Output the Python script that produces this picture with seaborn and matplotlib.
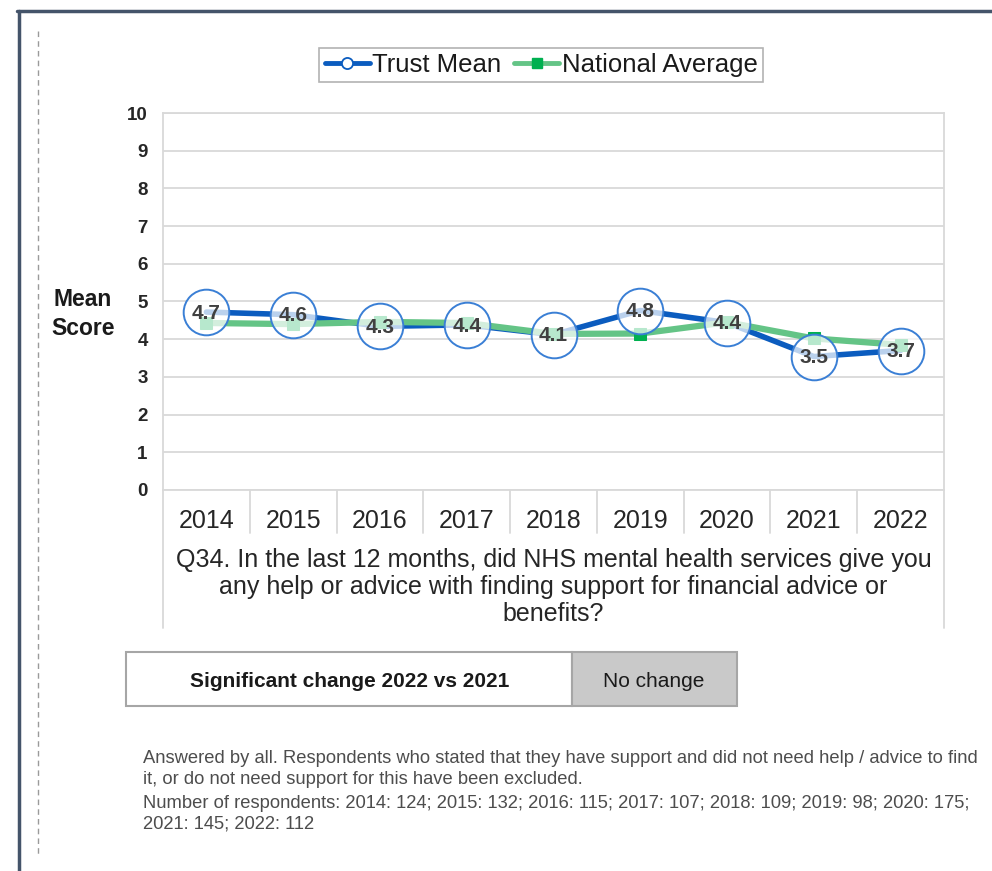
import pandas as pd
import numpy as np
import matplotlib.pyplot as plt
import matplotlib.lines as mlines
import matplotlib.patches as mpatches
import matplotlib.transforms as mtransforms
import seaborn as sns

# ==========================================
# COLOURS
# ==========================================
TRUST_BLUE   = "#0B5CBF"
CIRCLE_EDGE  = "#3A7FD5"
NAT_GREEN    = "#64C486"
NAT_MARKER   = "#00B050"
GRID_GREY    = "#D9D9D9"
TEXT_DARK    = "#404040"
FRAME_SLATE  = "#44546A"

# ==========================================
# DATA
# ==========================================
years = ["2014", "2015", "2016", "2017", "2018", "2019", "2020", "2021", "2022"]
trust_mean = [4.72, 4.65, 4.34, 4.38, 4.12, 4.76, 4.44, 3.54, 3.70]
trust_labels = ["4.7", "4.6", "4.3", "4.4", "4.1", "4.8", "4.4", "3.5", "3.7"]
national_avg = [4.43, 4.40, 4.46, 4.43, 4.14, 4.15, 4.45, 4.02, 3.85]

question = ("Q34. In the last 12 months, did NHS mental health services give you\n"
            "any help or advice with finding support for financial advice or\n"
            "benefits?")
footnote_1 = ("Answered by all. Respondents who stated that they have support and did not need help / advice to find\n"
              "it, or do not need support for this have been excluded.")
footnote_2 = ("Number of respondents: 2014: 124; 2015: 132; 2016: 115; 2017: 107; 2018: 109; 2019: 98; 2020: 175;\n"
              "2021: 145; 2022: 112")

df = pd.DataFrame({"year": years, "trust": trust_mean, "national": national_avg})

sns.set_style("white")
plt.rcParams["font.family"] = ["Liberation Sans", "DejaVu Sans"]

W, H = 992, 871
fig = plt.figure(figsize=(W / 100, H / 100), dpi=100)
fig.patch.set_facecolor("white")


def fx(px):
    return px / W


def fy(py):
    return 1 - py / H


# Frame around the page
fig.add_artist(mlines.Line2D([fx(17), 1], [fy(11), fy(11)], color=FRAME_SLATE, lw=2.5))
fig.add_artist(mlines.Line2D([fx(18.5), fx(18.5)], [fy(11), 0], color=FRAME_SLATE, lw=2.5))
fig.add_artist(mlines.Line2D([fx(37.5), fx(37.5)], [fy(31), fy(856)], color="#9A9A9A",
                             lw=1.0, linestyle=(0, (4, 3))))

# ==========================================
# MAIN CHART
# ==========================================
ax = fig.add_axes([fx(163), fy(490), fx(944) - fx(163), fy(113) - fy(490)])

sns.lineplot(data=df, x="year", y="trust", ax=ax, color=TRUST_BLUE, lw=4,
             sort=False, zorder=3, legend=False)
sns.lineplot(data=df, x="year", y="national", ax=ax, color=NAT_GREEN, lw=4.5,
             marker="s", markersize=8, markerfacecolor=NAT_MARKER,
             markeredgecolor=NAT_MARKER, sort=False, zorder=4, legend=False)

# Circle data labels on top of both series
xpos = np.arange(len(years))
ax.scatter(xpos, trust_mean, s=1080, facecolor=(1, 1, 1, 0.72), edgecolor=CIRCLE_EDGE,
           linewidth=1.4, zorder=5)
for x, y, lab in zip(xpos, trust_mean, trust_labels):
    ax.text(x, y - 0.03, lab, ha="center", va="center", fontsize=15, fontweight="bold",
            color=TEXT_DARK, zorder=6)

ax.set_xlim(-0.5, len(years) - 0.5)
ax.set_ylim(0, 10)
ax.set_yticks(range(0, 11))
ax.yaxis.grid(True, color=GRID_GREY, lw=1.3)
ax.set_axisbelow(True)
for s in ax.spines.values():
    s.set_color(GRID_GREY)
    s.set_linewidth(1.3)
ax.tick_params(axis="y", length=0, pad=11, labelsize=13.5, labelcolor="#262626")
for t in ax.get_yticklabels():
    t.set_fontweight("bold")
ax.tick_params(axis="x", length=0, pad=14, labelsize=18, labelcolor="#262626")
ax.set_xlabel("")
ax.set_ylabel("")

# Category separators below the axis
trans = mtransforms.blended_transform_factory(ax.transData, ax.transAxes)
for b in np.arange(-0.5, len(years), 1.0):
    end = -138 / 377 if b in (-0.5, len(years) - 0.5) else -43 / 377
    ax.plot([b, b], [0, end], transform=trans, color=GRID_GREY, lw=1.3, clip_on=False)

ax.text(0.5, -97 / 377, question, transform=ax.transAxes, ha="center", va="center",
        fontsize=18, color="#262626", linespacing=1.18)

fig.text(fx(83), fy(314), "Mean\nScore", ha="center", va="center", fontsize=16.5,
         fontweight="bold", color="#1A1A1A", linespacing=1.3)

# Legend
handles = [
    mlines.Line2D([], [], color=TRUST_BLUE, lw=3.5, marker="o", markersize=8,
                  markerfacecolor="white", markeredgecolor=TRUST_BLUE, markeredgewidth=1.3),
    mlines.Line2D([], [], color=NAT_GREEN, lw=3.5, marker="s", markersize=7,
                  markerfacecolor=NAT_MARKER, markeredgecolor=NAT_MARKER),
]
leg = fig.legend(handles, ["Trust Mean", "National Average"], loc="center",
                 bbox_to_anchor=(fx(541), fy(65)), ncol=2, fontsize=18.5,
                 frameon=True, fancybox=False, handlelength=1.75, handletextpad=0.1,
                 columnspacing=0.5, borderpad=0.2, labelcolor="#1A1A1A")
leg.get_frame().set_edgecolor("#A0A0A0")
leg.get_frame().set_linewidth(1.2)

# ==========================================
# SIGNIFICANCE BOX
# ==========================================
fig.add_artist(mpatches.Rectangle((fx(126), fy(706)), fx(572) - fx(126), fy(652) - fy(706),
                                  facecolor="white", edgecolor="#A6A6A6", lw=1.5))
fig.add_artist(mpatches.Rectangle((fx(572), fy(706)), fx(737) - fx(572), fy(652) - fy(706),
                                  facecolor="#C9C9C9", edgecolor="#A6A6A6", lw=1.5))
fig.text(fx(350), fy(681), "Significant change 2022 vs 2021", ha="center", va="center",
         fontsize=15, fontweight="bold", color="#1A1A1A")
fig.text(fx(654), fy(681), "No change", ha="center", va="center",
         fontsize=15, color="#1A1A1A")

# ==========================================
# FOOTNOTES
# ==========================================
fig.text(fx(143), fy(769), footnote_1, ha="left", va="center", fontsize=13.2,
         color="#4D4D4D", linespacing=1.3)
fig.text(fx(143), fy(814), footnote_2, ha="left", va="center", fontsize=13.2,
         color="#4D4D4D", linespacing=1.3)

fig.savefig("out.png", dpi=100)
plt.close()
